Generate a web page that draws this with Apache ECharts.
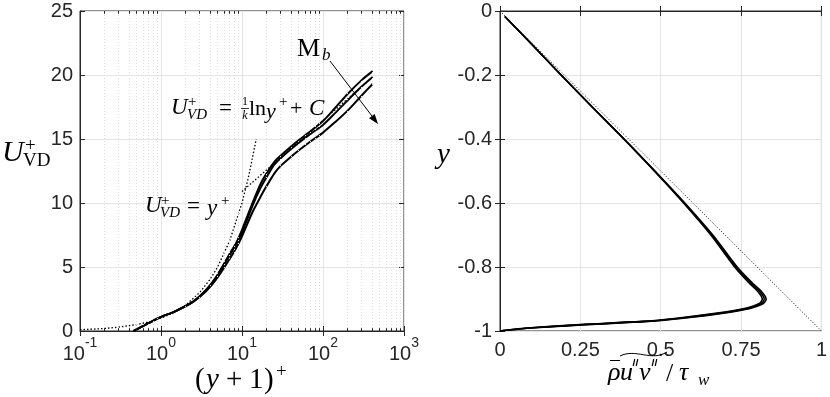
<!DOCTYPE html>
<html><head><meta charset="utf-8">
<script src="https://cdn.jsdelivr.net/npm/echarts@6/dist/echarts.min.js"></script>
<style>html,body{margin:0;padding:0;background:#fff}#c{width:830px;height:397px}</style>
</head><body><div id="c"></div><script>
// ---------- data: left panel (U+_VD vs (y+1)+) ----------
const uX = [0.46, 1.0, 1.45, 2.5, 3.6, 4.9, 7, 8.5, 10, 13.5, 17, 20, 25, 30, 40, 50, 70, 100, 140, 200, 300, 410];
const uA = [0, 1.1, 1.5, 2.3, 3.2, 4.3, 6.0, 6.9, 7.9, 10.0, 11.5, 12.3, 13.2, 13.7, 14.4, 14.9, 15.6, 16.4, 17.4, 18.5, 19.6, 20.3];
const uB = [0, 1.1, 1.5, 2.3, 3.2, 4.3, 5.9, 6.8, 7.7, 9.8, 11.2, 12.0, 13.0, 13.5, 14.2, 14.7, 15.4, 16.1, 17.0, 18.0, 19.1, 19.85];
const uC = [0, 1.1, 1.5, 2.3, 3.1, 4.1, 5.6, 6.5, 7.4, 9.3, 10.5, 11.3, 12.3, 12.9, 13.6, 14.1, 14.8, 15.5, 16.3, 17.2, 18.4, 19.3];
const linLawX = [0.1, 0.15, 0.2, 0.3, 0.5, 0.7, 1, 1.5, 2, 3, 4, 5, 7, 10, 12, 15];
const linLawU = [0.1, 0.15, 0.2, 0.3, 0.5, 0.7, 1, 1.5, 2, 3, 4, 5, 7, 10, 12, 15];
const logLawX = [10, 410];
const logLawU = [10.9, 19.85];
// ---------- data: right panel (shear stress vs y) ----------
const rY  = [-0.017, -0.1, -0.2, -0.3, -0.4, -0.5, -0.6, -0.7, -0.8, -0.85, -0.875, -0.9, -0.915, -0.93, -0.945, -0.96, -0.97, -0.98, -0.99, -0.996, -1];
const rS1 = [0.015, 0.095, 0.19, 0.287, 0.386, 0.482, 0.575, 0.662, 0.738, 0.785, 0.812, 0.828, 0.818, 0.775, 0.69, 0.57, 0.46, 0.27, 0.11, 0.04, 0];
const rS2 = [0.015, 0.095, 0.19, 0.287, 0.386, 0.481, 0.573, 0.659, 0.734, 0.780, 0.807, 0.822, 0.812, 0.768, 0.68, 0.56, 0.45, 0.26, 0.10, 0.035, 0];
const rS3 = [0.015, 0.095, 0.19, 0.287, 0.385, 0.480, 0.571, 0.656, 0.730, 0.775, 0.801, 0.816, 0.805, 0.760, 0.67, 0.55, 0.44, 0.25, 0.095, 0.03, 0];
const totalX = [0, 1];
const totalY = [0, -1];

const minorLog = [];
[0.1, 1, 10, 100].forEach(d => { for (let k = 2; k <= 9; k++) minorLog.push(+(k * d).toPrecision(3)); });

const AX = '#262626', GRID = '#e4e4e4';
const SANS = '"Liberation Sans", Arial, Helvetica, sans-serif';
const SERIF = '"Liberation Serif", "Times New Roman", serif';
const zip = (a, b) => a.map((v, i) => [v, b[i]]);

const chart = echarts.init(document.getElementById('c'), null, {renderer: 'canvas'});

const tickCommon = {inside: true, length: 5, lineStyle: {color: AX, width: 1}};
const lblCommon = {color: AX, fontFamily: SANS, fontSize: 20};

function hiddenAxis(base, pos) {
  return Object.assign({}, base, {position: pos, axisLine: {show: false}, axisLabel: {show: false},
    splitLine: {show: false}, axisTick: tickCommon});
}

const xLogBase = {type: 'log', logBase: 10, min: 0.1, max: 1000, gridIndex: 0};
const yUBase = {type: 'value', min: 0, max: 25, interval: 5, gridIndex: 0};
const xSBase = {type: 'value', min: 0, max: 1, interval: 0.25, gridIndex: 1};
const ySBase = {type: 'value', min: -1, max: 0, interval: 0.2, gridIndex: 1};

const option = {
  animation: false,
  backgroundColor: '#fff',
  grid: [
    {left: 80, top: 11, width: 324, height: 320, show: true, borderColor: AX, borderWidth: 1, backgroundColor: 'transparent'},
    {left: 500, top: 11, width: 324, height: 320, show: true, borderColor: AX, borderWidth: 1, backgroundColor: 'transparent'}
  ],
  xAxis: [
    Object.assign({}, xLogBase, {
      position: 'bottom',
      axisLine: {show: true, lineStyle: {color: AX}},
      axisTick: tickCommon,
      splitLine: {show: true, lineStyle: {color: GRID, width: 1}},
      axisLabel: {margin: 5, formatter: v => '{b|10}{s|' + Math.round(Math.log10(v)) + '}',
        rich: {b: {color: AX, fontFamily: SANS, fontSize: 20, padding: [8, 0, 0, 0]},
               s: {color: AX, fontFamily: SANS, fontSize: 14, verticalAlign: 'top'}}}
    }),
    hiddenAxis(xLogBase, 'top'),
    Object.assign({}, xSBase, {
      position: 'bottom',
      axisLine: {show: true, lineStyle: {color: AX}},
      axisTick: tickCommon,
      splitLine: {show: true, lineStyle: {color: GRID, width: 1}},
      axisLabel: Object.assign({margin: 9, formatter: v => String(v)}, lblCommon)
    }),
    hiddenAxis(xSBase, 'top')
  ],
  yAxis: [
    Object.assign({}, yUBase, {
      position: 'left',
      axisLine: {show: true, lineStyle: {color: AX}},
      axisTick: tickCommon,
      splitLine: {show: true, lineStyle: {color: GRID, width: 1}},
      axisLabel: Object.assign({margin: 7, formatter: v => String(v)}, lblCommon)
    }),
    hiddenAxis(yUBase, 'right'),
    Object.assign({}, ySBase, {
      position: 'left',
      axisLine: {show: true, lineStyle: {color: AX}},
      axisTick: tickCommon,
      splitLine: {show: true, lineStyle: {color: GRID, width: 1}},
      axisLabel: Object.assign({margin: 8, formatter: v => v === 0 ? '0' : String(+v.toFixed(1))}, lblCommon)
    }),
    hiddenAxis(ySBase, 'right')
  ],
  series: [
    // minor log grid (dotted)
    {type: 'line', xAxisIndex: 0, yAxisIndex: 0, data: [], z: 1, silent: true,
     markLine: {silent: true, symbol: ['none', 'none'], label: {show: false},
       lineStyle: {type: [1, 2], color: '#dedede', width: 1},
       data: minorLog.map(v => ({xAxis: v}))}},
    // minor log ticks bottom/top
    {type: 'line', xAxisIndex: 0, yAxisIndex: 0, data: [], z: 2, silent: true,
     markLine: {silent: true, symbol: ['none', 'none'], label: {show: false},
       lineStyle: {type: 'solid', color: AX, width: 1},
       data: minorLog.map(v => [{coord: [v, 0]}, {coord: [v, 0.22]}]).concat(
             minorLog.map(v => [{coord: [v, 25]}, {coord: [v, 24.78]}]))}},
    // law lines
    {type: 'line', xAxisIndex: 0, yAxisIndex: 0, data: zip(linLawX, linLawU), showSymbol: false,
     lineStyle: {color: '#000', width: 1.3, type: [1.5, 2]}, z: 3},
    {type: 'line', xAxisIndex: 0, yAxisIndex: 0, data: zip(logLawX, logLawU), showSymbol: false,
     lineStyle: {color: '#000', width: 1.3, type: [1.5, 2]}, z: 3},
    // profiles
    {type: 'line', xAxisIndex: 0, yAxisIndex: 0, data: zip(uX, uA), showSymbol: false, smooth: 0.25,
     lineStyle: {color: '#000', width: 2}, z: 4},
    {type: 'line', xAxisIndex: 0, yAxisIndex: 0, data: zip(uX, uB), showSymbol: false, smooth: 0.25,
     lineStyle: {color: '#000', width: 2}, z: 4},
    {type: 'line', xAxisIndex: 0, yAxisIndex: 0, data: zip(uX, uC), showSymbol: false, smooth: 0.25,
     lineStyle: {color: '#000', width: 2}, z: 4},
    // right panel
    {type: 'line', xAxisIndex: 2, yAxisIndex: 2, data: zip(totalX, totalY), showSymbol: false,
     lineStyle: {color: '#000', width: 1, type: [1, 2]}, z: 3},
    {type: 'line', xAxisIndex: 2, yAxisIndex: 2, data: zip(rS1, rY), showSymbol: false, smooth: 0.3,
     lineStyle: {color: '#000', width: 1.6}, z: 4},
    {type: 'line', xAxisIndex: 2, yAxisIndex: 2, data: zip(rS2, rY), showSymbol: false, smooth: 0.3,
     lineStyle: {color: '#000', width: 1.6}, z: 4},
    {type: 'line', xAxisIndex: 2, yAxisIndex: 2, data: zip(rS3, rY), showSymbol: false, smooth: 0.3,
     lineStyle: {color: '#000', width: 1.6}, z: 4}
  ],
  graphic: []
};

function T(x, y, text, size, italic, align) {
  return {type: 'text', x: x, y: y, z: 100, silent: true,
    style: {text: text, fill: '#000', align: align || 'left', verticalAlign: 'middle',
      font: (italic ? 'italic ' : '') + size + 'px ' + SERIF}};
}
function L(x1, y1, x2, y2, w) {
  return {type: 'line', z: 100, silent: true, shape: {x1: x1, y1: y1, x2: x2, y2: y2},
    style: {stroke: '#000', lineWidth: w || 1}};
}
const g = [];
// left y label U^+_VD
g.push(T(2, 153, 'U', 30, true));
g.push(T(25, 146, '+', 19, false));
g.push(T(23, 161, 'VD', 19, false));
// left x label (y+1)^+
g.push(T(195, 380, '(', 29, false));
g.push(T(206, 380, 'y', 29, true));
g.push(T(226, 380, '+', 29, false));
g.push(T(249, 380, '1', 29, false));
g.push(T(264, 380, ')', 29, false));
g.push(T(276, 372, '+', 19, false));
// annotation: U+_VD = y+
g.push(T(145, 206, 'U', 23, true));
g.push(T(161, 201, '+', 15, false));
g.push(T(160, 213, 'VD', 15, true));
g.push(T(187, 207, '=', 23, false));
g.push(T(207, 209, 'y', 23, true));
g.push(T(221, 201, '+', 15, false));
// annotation: U+_VD = 1/k ln y+ + C
g.push(T(171, 108, 'U', 23, true));
g.push(T(188, 102, '+', 15, false));
g.push(T(187, 115, 'VD', 15, true));
g.push(T(219, 109, '=', 23, false));
g.push(T(245, 102, '1', 12, false, 'center'));
g.push(L(241, 108.5, 249, 108.5, 0.8));
g.push(T(245, 116, 'k', 12, true, 'center'));
g.push(T(249, 109, 'ln', 22, false));
g.push(T(266, 112, 'y', 22, true));
g.push(T(279, 102, '+', 15, false));
g.push(T(290, 109, '+', 22, false));
g.push(T(309, 109, 'C', 23, true));
// M_b and arrow
g.push(T(297, 49, 'M', 26, false));
g.push(T(322, 56, 'b', 17, true));
g.push(L(330, 61, 375, 120, 1));
g.push({type: 'polygon', z: 100, silent: true, shape: {points: [[378, 124], [369.1, 118.2], [372, 116], [374.7, 113.9]]}, style: {fill: '#000'}});
// right y label
g.push(T(437, 155, 'y', 29, true));
// right x label  rho-bar u''v'' / tau_w  with wide tilde
g.push(T(608, 373, 'ρ', 26, true));
g.push(L(610, 360.5, 620, 360.5, 1));
g.push(T(620, 373, 'u', 26, true));
g.push(L(634.8, 359, 633.2, 366, 1.2));
g.push(L(637.8, 359, 636.2, 366, 1.2));
g.push(T(639, 373, 'v', 26, true));
g.push(L(653.8, 359, 652.2, 366, 1.2));
g.push(L(656.8, 359, 655.2, 366, 1.2));
g.push({type: 'bezierCurve', z: 100, silent: true,
  shape: {x1: 620, y1: 356, cpx1: 636, cpy1: 348, cpx2: 651, cpy2: 362, x2: 667, y2: 352},
  style: {stroke: '#000', lineWidth: 1, fill: null}});
g.push(T(666, 374, '/', 26, false));
g.push(T(679, 373, 'τ', 26, true));
g.push(T(698, 381, 'w', 17, true));
option.graphic = g;

chart.setOption(option);
</script></body></html>
